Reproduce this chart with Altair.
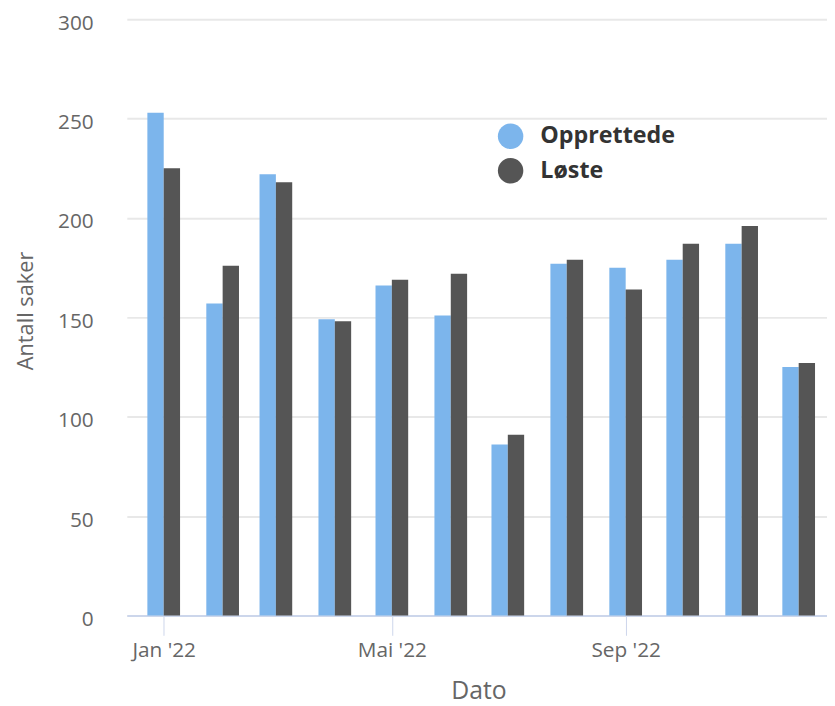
import altair as alt
import pandas as pd

# ---- data ----
months = ["2022-01-01", "2022-02-01", "2022-03-01", "2022-04-01", "2022-05-01", "2022-06-01",
          "2022-07-01", "2022-08-01", "2022-09-01", "2022-10-01", "2022-11-01", "2022-12-01"]
opprettede = [253, 157, 222, 149, 166, 151, 86, 177, 175, 179, 187, 125]
loste = [225, 176, 218, 148, 169, 172, 91, 179, 164, 187, 196, 127]
series_names = ["Opprettede", "Løste"]
series_colors = ["#7cb5ec", "#555555"]
y_ticks = [0, 50, 100, 150, 200, 250, 300]
x_tick_months = [1, 5, 9]
month_abbr = ["Jan", "Feb", "Mar", "Apr", "Mai", "Jun", "Jul", "Aug", "Sep", "Okt", "Nov", "Des"]

df = pd.DataFrame({
    "dato": months + months,
    "antall": opprettede + loste,
    "serie": [series_names[0]] * len(months) + [series_names[1]] * len(months),
})

FONT = "Open Sans"
GRAY = "#666666"

label_expr = ("[" + ",".join("'" + m + "'" for m in month_abbr) + "][utcmonth(datum.value)]"
              " + \" '\" + utcFormat(datum.value, '%y')")

x_enc = alt.X(
    "dato:T",
    scale=alt.Scale(
        type="utc",
        domain=[alt.DateTime(year=2021, month=12, date=15, hours=5, utc=True),
                alt.DateTime(year=2022, month=12, date=13, hours=7, utc=True)],
    ),
    axis=alt.Axis(
        values=[alt.DateTime(year=2022, month=m, date=1, utc=True) for m in x_tick_months],
        labelExpr=label_expr,
        title="Dato",
        grid=False,
        domainColor="#ccd6eb", domainWidth=2,
        tickColor="#ccd6eb", tickWidth=1, tickSize=20,
        labelFont=FONT, labelFontSize=21, labelColor=GRAY,
        labelPadding=21, labelBaseline="alphabetic", labelFlush=False,
        titleFont=FONT, titleFontSize=25, titleColor=GRAY, titleFontWeight="normal",
        titleX=355, titleY=84, titleBaseline="alphabetic",
    ),
)

y_enc = alt.Y(
    "antall:Q",
    scale=alt.Scale(domain=[0, 300], nice=False),
    axis=alt.Axis(
        values=y_ticks,
        title="Antall saker",
        domain=False, ticks=False, tickSize=0,
        grid=True, gridColor="#e8e8e8", gridWidth=2,
        labelFont=FONT, labelFontSize=21, labelColor=GRAY,
        labelPadding=34, labelOffset=4, labelAlign="right",
        titleFont=FONT, titleFontSize=22, titleColor=GRAY, titleFontWeight="normal",
        titleX=-95, titleY=294, titleBaseline="alphabetic", titleAngle=-90,
    ),
)

legend = alt.Legend(
    title=None, orient="none", legendX=374.5, legendY=105,
    symbolType="circle", symbolSize=660, symbolStrokeWidth=0, symbolOpacity=1,
    labelFont=FONT, labelFontSize=23.5, labelFontWeight="bold", labelColor="#333333",
    labelOffset=17, rowPadding=9, padding=0,
)

color_enc = alt.Color(
    "serie:N",
    scale=alt.Scale(domain=series_names, range=series_colors),
    legend=legend,
    sort=series_names,
)

base = alt.Chart(df).encode(x=x_enc, y=y_enc, color=color_enc)

bars_a = base.transform_filter(alt.datum.serie == series_names[0]).mark_bar(width=16.5, xOffset=-8.25)
bars_b = base.transform_filter(alt.datum.serie == series_names[1]).mark_bar(width=16.5, xOffset=8.25)

chart = (
    alt.layer(bars_a, bars_b)
    .properties(
        width=707, height=602,
        padding={"left": 120, "top": 8, "right": 0, "bottom": 88},
        autosize=alt.AutoSizeParams(type="none"),
        background="white",
    )
    .configure_view(stroke=None)
)

chart.save("out.html", embed_options={"renderer": "svg", "actions": False})
